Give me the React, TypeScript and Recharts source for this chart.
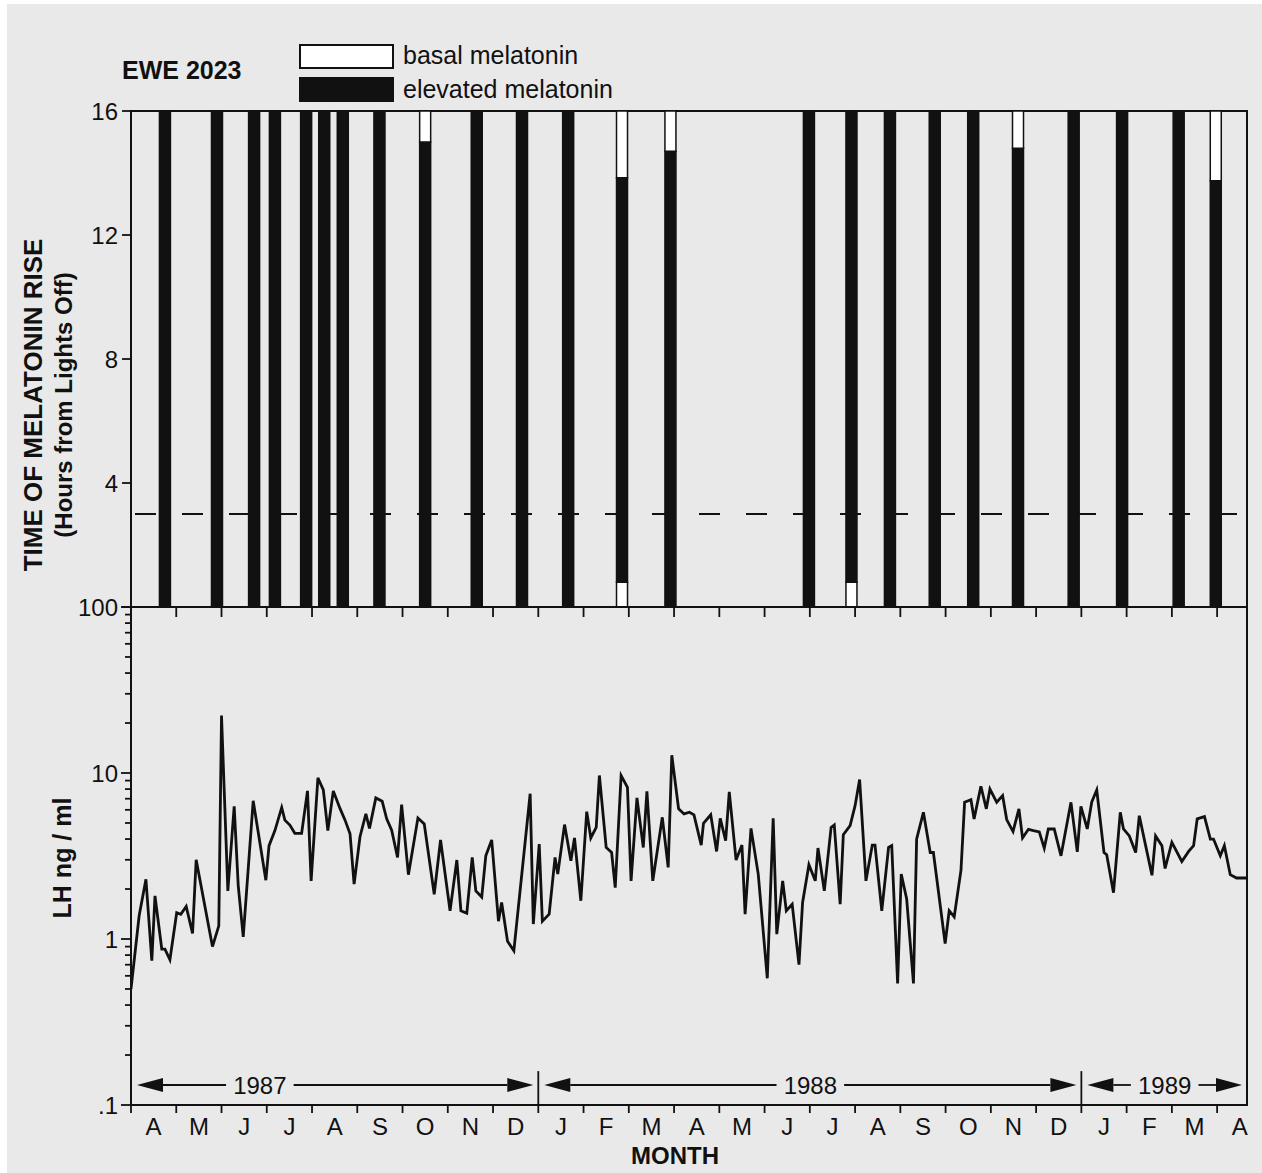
import React from "react";
import {
  ComposedChart,
  Bar,
  Line,
  XAxis,
  YAxis,
  ReferenceLine,
  ReferenceArea,
} from "recharts";

// x is measured in months since 1 April 1987
const X_MAX = 24.66;
const INK = "#111";
const PAPER = "#e9e9e9";
const FONT = "'Liberation Sans', Arial, Helvetica, sans-serif";

const MONTH_LABELS = [
  "A", "M", "J", "J", "A", "S", "O", "N", "D",
  "J", "F", "M", "A", "M", "J", "J", "A", "S", "O", "N", "D",
  "J", "F", "M", "A",
];
const MONTH_EDGES = [0, 1, 2, 3, 4, 5, 6, 7, 8, 9, 10, 11, 12, 13, 14, 15, 16, 17, 18, 19, 20, 21, 22, 23, 24];
const MONTH_MIDS = [0.5, 1.5, 2.5, 3.5, 4.5, 5.5, 6.5, 7.5, 8.5, 9.5, 10.5, 11.5, 12.5, 13.5, 14.5, 15.5, 16.5, 17.5, 18.5, 19.5, 20.5, 21.5, 22.5, 23.5, 24.5];

// years shown under the LH trace: [label, start month, end month, label position]
const YEARS: [string, number, number, number][] = [
  ["1987", 0, 9, 0.31],
  ["1988", 9, 21, 0.5],
  ["1989", 21, X_MAX, 0.5],
];
const YEAR_BREAKS = [9, 21];

// melatonin sampling nights
const sampleMonth = [
  0.74, 1.89, 2.71, 3.17, 3.86, 4.26, 4.67, 5.48, 6.49, 7.63, 8.63, 9.65,
  10.84, 11.91, 14.97, 15.91, 16.76, 17.75, 18.6, 19.59, 20.82, 21.89, 23.14, 23.96,
];
// hours after lights off where elevated melatonin begins / ends
const elevatedFrom = [
  0, 0, 0, 0, 0, 0, 0, 0, 0, 0, 0, 0,
  0.8, 0, 0, 0.8, 0, 0, 0, 0, 0, 0, 0, 0,
];
const elevatedTo = [
  16, 16, 16, 16, 16, 16, 16, 16, 15, 16, 16, 16,
  13.85, 14.7, 16, 16, 16, 16, 16, 14.8, 16, 16, 16, 13.75,
];
const NIGHT_HOURS = 16;
const THRESHOLD_HOURS = 3;

const TIME_TICKS = [0, 4, 8, 12, 16];

// LH (ng/ml) series
const lhMonth = [
  0.0, 0.18, 0.33, 0.46, 0.53, 0.68, 0.75, 0.86, 1.01, 1.1,
  1.22, 1.36, 1.44, 1.8, 1.94, 2.0, 2.14, 2.28, 2.37, 2.48,
  2.7, 2.98, 3.05, 3.18, 3.33, 3.4, 3.51, 3.62, 3.77, 3.9,
  3.98, 4.13, 4.25, 4.35, 4.47, 4.62, 4.73, 4.84, 4.93, 5.06,
  5.19, 5.27, 5.41, 5.55, 5.65, 5.76, 5.89, 5.98, 6.13, 6.34,
  6.48, 6.7, 6.84, 7.05, 7.2, 7.29, 7.42, 7.54, 7.62, 7.75,
  7.84, 7.97, 8.12, 8.19, 8.32, 8.46, 8.82, 8.89, 9.02, 9.09,
  9.24, 9.37, 9.43, 9.58, 9.72, 9.8, 9.94, 10.07, 10.16, 10.28,
  10.35, 10.5, 10.62, 10.7, 10.83, 10.97, 11.05, 11.18, 11.32, 11.4,
  11.53, 11.74, 11.87, 11.95, 12.1, 12.22, 12.34, 12.44, 12.6, 12.65,
  12.81, 12.94, 13.02, 13.14, 13.22, 13.37, 13.5, 13.57, 13.7, 13.86,
  14.06, 14.19, 14.27, 14.4, 14.48, 14.61, 14.76, 14.84, 14.98, 15.12,
  15.18, 15.32, 15.47, 15.54, 15.67, 15.74, 15.89, 16.0, 16.1, 16.24,
  16.38, 16.44, 16.59, 16.74, 16.81, 16.94, 17.02, 17.14, 17.29, 17.36,
  17.51, 17.66, 17.73, 17.99, 18.08, 18.19, 18.34, 18.42, 18.56, 18.63,
  18.78, 18.9, 18.98, 19.13, 19.26, 19.35, 19.49, 19.62, 19.7, 19.83,
  19.94, 20.07, 20.18, 20.27, 20.4, 20.55, 20.77, 20.91, 20.99, 21.13,
  21.23, 21.34, 21.5, 21.56, 21.71, 21.86, 21.93, 22.06, 22.2, 22.28,
  22.42, 22.56, 22.64, 22.78, 22.85, 23.0, 23.22, 23.37, 23.48, 23.56,
  23.72, 23.85, 23.92, 24.07, 24.16, 24.29, 24.43, 24.64,
];
const lhValue = [
  0.5, 1.38, 2.29, 0.74, 1.82, 0.87, 0.87, 0.75, 1.44, 1.41,
  1.57, 1.08, 3.0, 0.9, 1.2, 22.2, 1.95, 6.3, 2.09, 1.03,
  6.8, 2.26, 3.65, 4.5, 6.2, 5.2, 4.86, 4.33, 4.33, 7.8,
  2.24, 9.35, 7.9, 4.5, 7.8, 6.1, 5.2, 4.3, 2.14, 4.13,
  5.67, 4.64, 7.08, 6.76, 5.29, 4.53, 3.1, 6.45, 2.44, 5.36,
  4.93, 1.86, 3.95, 1.48, 2.99, 1.48, 1.43, 3.1, 1.95, 1.79,
  3.17, 3.95, 1.28, 1.66, 0.97, 0.85, 7.5, 1.23, 3.73, 1.28,
  1.41, 3.1, 2.46, 4.89, 2.96, 4.06, 1.7, 5.85, 4.06, 4.7,
  9.66, 3.56, 3.32, 2.04, 9.66, 8.2, 2.24, 7.08, 3.56, 7.76,
  2.24, 5.41, 2.7, 12.8, 6.08, 5.67, 5.8, 5.6, 3.68, 4.98,
  5.6, 3.37, 5.33, 3.91, 7.7, 2.99, 3.68, 1.41, 4.64, 2.46,
  0.58, 5.33, 1.07, 2.24, 1.48, 1.62, 0.7, 1.66, 2.8, 2.24,
  3.53, 1.95, 4.7, 4.86, 1.62, 4.25, 4.82, 6.36, 9.13, 2.24,
  3.68, 3.68, 1.48, 3.56, 3.65, 0.54, 2.46, 1.74, 0.54, 4.0,
  5.8, 3.32, 3.32, 0.94, 1.48, 1.36, 2.6, 6.66, 6.9, 5.29,
  8.32, 6.08, 8.0, 6.66, 7.3, 5.24, 4.44, 6.08, 4.06, 4.58,
  4.5, 4.42, 3.53, 4.6, 4.6, 3.17, 6.66, 3.35, 6.3, 4.6,
  6.7, 7.9, 3.32, 3.22, 1.9, 5.8, 4.6, 4.18, 3.32, 5.53,
  3.65, 2.42, 4.18, 3.65, 2.66, 3.82, 2.93, 3.37, 3.65, 5.29,
  5.46, 4.0, 4.0, 3.17, 3.65, 2.44, 2.33, 2.33,
];

const LH_MAJOR = [0.1, 1, 10, 100];
const LH_TICKS = [
  0.1, 0.2, 0.3, 0.4, 0.5, 0.6, 0.7, 0.8, 0.9,
  1, 2, 3, 4, 5, 6, 7, 8, 9,
  10, 20, 30, 40, 50, 60, 70, 80, 90, 100,
];
const YEAR_ROW = 0.132; // LH level the year arrows sit on
const YEAR_BREAK_TOP = 0.16;

const barRows = sampleMonth.map((m, i) => ({
  m,
  basalLow: elevatedFrom[i],
  elevated: elevatedTo[i] - elevatedFrom[i],
  basalHigh: NIGHT_HOURS - elevatedTo[i],
}));

const lhRows = lhMonth.map((m, i) => ({ m, lh: lhValue[i] }));

const fmtLh = (v: number) => (v < 1 ? ".1" : String(v));

function TimeTick({ x, y, payload }: any) {
  return (
    <g>
      <line x1={x - 9} x2={x} y1={y} y2={y} stroke={INK} strokeWidth={1.8} />
      {payload.value > 0 && (
        <text x={x - 13} y={y} dy="0.36em" textAnchor="end" fontSize={24} fill={INK}>
          {payload.value}
        </text>
      )}
    </g>
  );
}

function TopMonthTick({ x, y }: any) {
  return <line x1={x} x2={x} y1={y} y2={y + 10} stroke={INK} strokeWidth={1.8} />;
}

function LhTick({ x, y, payload }: any) {
  const major = LH_MAJOR.includes(payload.value);
  return (
    <g>
      <line x1={x - (major ? 10 : 6)} x2={x} y1={y} y2={y} stroke={INK} strokeWidth={1.8} />
      {major && (
        <text x={x - 13} y={y} dy="0.36em" textAnchor="end" fontSize={24} fill={INK}>
          {fmtLh(payload.value)}
        </text>
      )}
    </g>
  );
}

function MonthTick({ x, y, payload }: any) {
  const v = payload.value as number;
  if (Number.isInteger(v)) {
    return <line x1={x} x2={x} y1={y} y2={y + 8} stroke={INK} strokeWidth={1.8} />;
  }
  return (
    <text x={x} y={y + 30} textAnchor="middle" fontSize={24} fill={INK}>
      {MONTH_LABELS[Math.floor(v)]}
    </text>
  );
}

// double-headed arrow with the year written in a gap
function yearArrow(label: string, at: number) {
  return (p: any) => {
    const y = p.y1;
    const a = p.x1 + 6;
    const b = p.x2 - 5;
    const head = 26;
    const half = 7;
    const cx = a + (b - a) * at;
    const gap = label.length * 6.7 + 7;
    return (
      <g>
        <polygon points={`${a},${y} ${a + head},${y - half} ${a + head},${y + half}`} fill={INK} />
        <polygon points={`${b},${y} ${b - head},${y - half} ${b - head},${y + half}`} fill={INK} />
        <line x1={a + head} x2={cx - gap} y1={y} y2={y} stroke={INK} strokeWidth={1.8} />
        <line x1={cx + gap} x2={b - head} y1={y} y2={y} stroke={INK} strokeWidth={1.8} />
        <text x={cx} y={y} dy="0.36em" textAnchor="middle" fontSize={24} fill={INK}>
          {label}
        </text>
      </g>
    );
  };
}

export default function App() {
  return (
    <div
      style={{
        position: "absolute",
        left: 0,
        top: 0,
        width: 1262,
        height: 1173,
        background: "#fff",
        fontFamily: FONT,
        overflow: "hidden",
      }}
    >
      <div style={{ position: "absolute", left: 7, top: 4, right: 0, bottom: 0, background: PAPER }} />

      {/* melatonin onset panel */}
      <div style={{ position: "absolute", left: 0, top: 0 }}>
        <ComposedChart
          width={1262}
          height={620}
          data={barRows}
          margin={{ top: 111, right: 15, bottom: 0, left: 0 }}
        >
          <XAxis
            dataKey="m"
            type="number"
            domain={[0, X_MAX]}
            allowDataOverflow
            ticks={MONTH_EDGES}
            interval={0}
            height={13}
            tickSize={0}
            tickMargin={0}
            tickLine={false}
            axisLine={false}
            tick={<TopMonthTick />}
          />
          <YAxis
            type="number"
            domain={[0, NIGHT_HOURS]}
            ticks={TIME_TICKS}
            interval={0}
            width={131}
            tickSize={0}
            tickMargin={0}
            tickLine={false}
            axisLine={false}
            tick={<TimeTick />}
          />
          <ReferenceLine
            y={THRESHOLD_HOURS}
            stroke={INK}
            strokeWidth={2}
            strokeDasharray="21 26"
            strokeDashoffset={-4}
          />
          <Bar dataKey="basalLow" stackId="n" barSize={11} fill="#fff" stroke={INK} strokeWidth={1.5} isAnimationActive={false} />
          <Bar dataKey="elevated" stackId="n" barSize={11} fill={INK} stroke={INK} strokeWidth={1.5} isAnimationActive={false} />
          <Bar dataKey="basalHigh" stackId="n" barSize={11} fill="#fff" stroke={INK} strokeWidth={1.5} isAnimationActive={false} />
          <ReferenceArea
            x1={0}
            x2={X_MAX}
            y1={0}
            y2={NIGHT_HOURS}
            fill="none"
            stroke={INK}
            strokeWidth={2}
            ifOverflow="visible"
          />
        </ComposedChart>
      </div>

      {/* LH panel */}
      <div style={{ position: "absolute", left: 0, top: 0 }}>
        <ComposedChart
          width={1262}
          height={1173}
          data={lhRows}
          margin={{ top: 607, right: 15, bottom: 23, left: 0 }}
        >
          <XAxis
            dataKey="m"
            type="number"
            domain={[0, X_MAX]}
            allowDataOverflow
            ticks={[...MONTH_EDGES, ...MONTH_MIDS].sort((a, b) => a - b)}
            interval={0}
            height={45}
            tickSize={0}
            tickMargin={0}
            tickLine={false}
            axisLine={false}
            tick={<MonthTick />}
          />
          <YAxis
            type="number"
            scale="log"
            domain={[0.1, 100]}
            allowDataOverflow
            ticks={LH_TICKS}
            interval={0}
            width={131}
            tickSize={0}
            tickMargin={0}
            tickLine={false}
            axisLine={false}
            tick={<LhTick />}
          />
          <Line
            dataKey="lh"
            type="linear"
            stroke={INK}
            strokeWidth={2.8}
            strokeLinejoin="miter"
            dot={false}
            activeDot={false}
            isAnimationActive={false}
          />
          {YEAR_BREAKS.map((m) => (
            <ReferenceLine
              key={`b${m}`}
              segment={[
                { x: m, y: 0.1 },
                { x: m, y: YEAR_BREAK_TOP },
              ]}
              stroke={INK}
              strokeWidth={1.8}
            />
          ))}
          {YEARS.map(([label, from, to, at]) => (
            <ReferenceLine
              key={label}
              segment={[
                { x: from, y: YEAR_ROW },
                { x: to, y: YEAR_ROW },
              ]}
              shape={yearArrow(label, at)}
            />
          ))}
          <ReferenceArea
            x1={0}
            x2={X_MAX}
            y1={0.1}
            y2={100}
            fill="none"
            stroke={INK}
            strokeWidth={2}
            ifOverflow="visible"
          />
        </ComposedChart>
      </div>

      {/* titles and legend */}
      <svg
        width={1262}
        height={1173}
        style={{ position: "absolute", left: 0, top: 0, pointerEvents: "none" }}
      >
        <text x={122} y={79} fontSize={25} fontWeight="bold" fill={INK}>
          EWE 2023
        </text>
        <rect x={300} y={45} width={93} height={23} fill="#fff" stroke={INK} strokeWidth={2} />
        <rect x={300} y={78} width={93} height={23} fill={INK} stroke={INK} strokeWidth={2} />
        <text x={403} y={64} fontSize={25} fill={INK}>
          basal melatonin
        </text>
        <text x={403} y={98} fontSize={25} fill={INK}>
          elevated melatonin
        </text>
        <text
          transform="translate(33,405) rotate(-90)"
          textAnchor="middle"
          dy="0.36em"
          fontSize={26}
          fontWeight="bold"
          fill={INK}
        >
          TIME OF MELATONIN RISE
        </text>
        <text
          transform="translate(63,405) rotate(-90)"
          textAnchor="middle"
          dy="0.36em"
          fontSize={24}
          fontWeight="bold"
          fill={INK}
        >
          (Hours from Lights Off)
        </text>
        <text
          transform="translate(62,858) rotate(-90)"
          textAnchor="middle"
          dy="0.36em"
          fontSize={25}
          fontWeight="bold"
          fill={INK}
        >
          LH ng / ml
        </text>
        <text x={675} y={1164} textAnchor="middle" fontSize={24} fontWeight="bold" fill={INK}>
          MONTH
        </text>
      </svg>
    </div>
  );
}
